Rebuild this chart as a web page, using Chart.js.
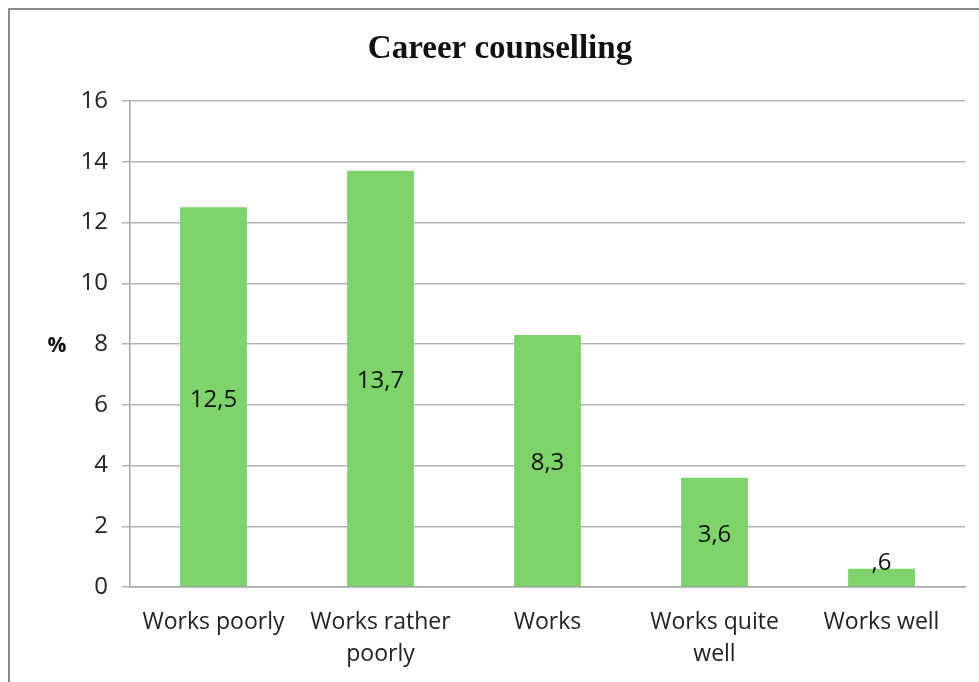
<!DOCTYPE html>
<html>
<head>
<meta charset="utf-8">
<script src="https://cdn.jsdelivr.net/npm/chart.js@4/dist/chart.umd.min.js"></script>
<style>
html,body{margin:0;padding:0;background:#fff;}
#wrap{position:relative;width:979px;height:682px;}
</style>
</head>
<body>
<div id="wrap"><canvas id="c" width="979" height="682"></canvas></div>
<script>
const titleText = "Career counselling";
const categories = ["Works poorly", ["Works rather","poorly"], "Works", ["Works quite","well"], "Works well"];
const values = [12.5, 13.7, 8.3, 3.6, 0.6];
const valueLabels = ["12,5", "13,7", "8,3", "3,6", ",6"];
const yTicks = [0, 2, 4, 6, 8, 10, 12, 14, 16];
const yAxisLabel = "%";

const FONT = "'Open Sans', 'Liberation Sans', sans-serif";

const decor = {
  id: 'decor',
  beforeDraw(chart) {
    const ctx = chart.ctx;
    ctx.save();
    ctx.fillStyle = '#fff';
    ctx.fillRect(0, 0, chart.width, chart.height);
    ctx.strokeStyle = '#8c8c8c';
    ctx.lineWidth = 2;
    ctx.beginPath();
    ctx.moveTo(9, chart.height + 5);
    ctx.lineTo(9, 9);
    ctx.lineTo(chart.width + 5, 9);
    ctx.stroke();
    ctx.restore();
  },
  afterDraw(chart) {
    const ctx = chart.ctx;
    const a = chart.chartArea;
    ctx.save();
    // title
    ctx.fillStyle = '#111';
    ctx.font = "bold 33px 'Liberation Serif', serif";
    ctx.textAlign = 'center';
    ctx.textBaseline = 'middle';
    ctx.fillText(titleText, 500, 49);
    // y axis label
    ctx.font = "bold 21px " + FONT;
    ctx.fillText(yAxisLabel, 57, (a.top + a.bottom) / 2 + 2);
    // value labels
    ctx.font = "24px " + FONT;
    ctx.fillStyle = '#111';
    const meta = chart.getDatasetMeta(0);
    meta.data.forEach((bar, i) => {
      const h = bar.base - bar.y;
      let y;
      if (h < 30) y = bar.y - 6;
      else y = (bar.y + bar.base) / 2 + 3;
      ctx.fillText(valueLabels[i], bar.x, y);
    });
    ctx.restore();
  }
};

new Chart(document.getElementById('c'), {
  type: 'bar',
  data: {
    labels: categories,
    datasets: [{
      data: values,
      backgroundColor: '#7ED46B',
      borderWidth: 0,
      barPercentage: 0.4,
      categoryPercentage: 1.0
    }]
  },
  options: {
    responsive: false,
    animation: false,
    events: [],
    layout: { padding: { top: 101, right: 14, bottom: 0, left: 0 } },
    plugins: { legend: { display: false }, tooltip: { enabled: false }, title: { display: false } },
    scales: {
      x: {
        grid: { display: false, drawTicks: false },
        border: { display: true, color: '#a6a6a6', width: 1.5 },
        ticks: { color: '#222', font: { family: FONT, size: 23, lineHeight: 1.39 }, padding: 19, maxRotation: 0, autoSkip: false },
        afterFit(scale) { scale.height = 95; }
      },
      y: {
        min: 0, max: 16,
        afterBuildTicks(scale) { scale.ticks = yTicks.map(v => ({ value: v })); },
        grid: { color: '#b3b3b3', lineWidth: 1.5, tickLength: 8, drawTicks: true },
        border: { display: true, color: '#a6a6a6', width: 1.5 },
        ticks: { color: '#222', font: { family: FONT, size: 24 }, padding: 14 },
        afterFit(scale) { scale.width = 130; }
      }
    }
  },
  plugins: [decor]
});
</script>
</body>
</html>
